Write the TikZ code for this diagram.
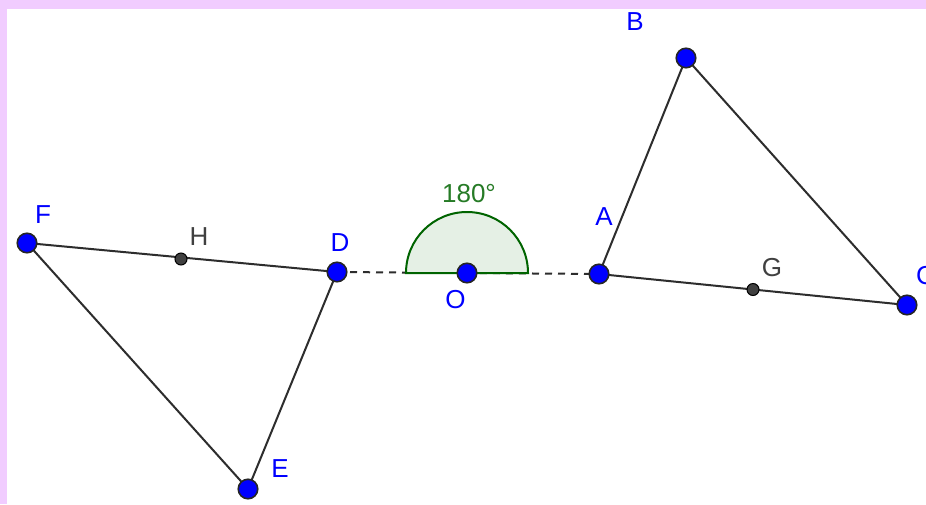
\documentclass[tikz,border=0pt]{standalone}
\usepackage{fontspec}
\setmainfont{Liberation Sans}
\usetikzlibrary{calc}
\definecolor{frame}{RGB}{241,204,255}
\definecolor{ptblue}{RGB}{0,0,255}
\definecolor{anggreen}{RGB}{0,100,0}
\definecolor{angfill}{RGB}{229,240,229}
\definecolor{seg}{RGB}{45,45,45}
\definecolor{lblgray}{RGB}{64,64,64}
\tikzset{
  segline/.style={draw=seg, line width=2pt},
  dashline/.style={draw=seg, line width=2pt, dash pattern=on 7pt off 6pt},
  bigpt/.style={circle, fill=ptblue, draw=black!85, line width=1.6pt, minimum size=19.5pt, inner sep=0pt},
  smallpt/.style={circle, fill=black!75, draw=black, line width=1pt, minimum size=12pt, inner sep=0pt},
  lbl/.style={inner sep=0pt, text=ptblue, font=\fontsize{26}{30}\selectfont},
  glbl/.style={lbl, text=lblgray},
  anglbl/.style={lbl, text=anggreen!85!white}
}
\begin{document}
\begin{tikzpicture}[x=1pt,y=-1pt]
\useasboundingbox (0,0) rectangle (926,504);
\fill[white] (0,0) rectangle (926,504);
\fill[frame] (0,0) rectangle (926,9);
\fill[frame] (0,0) rectangle (7,504);
% points
\coordinate (F) at (27,243);
\coordinate (H) at (181,259);
\coordinate (D) at (337,272);
\coordinate (E) at (248,489);
\coordinate (O) at (467,273);
\coordinate (A) at (599,274);
\coordinate (G) at (753,289.5);
\coordinate (C) at (907,305);
\coordinate (B) at (686,58);
% dashed line through O
\draw[dashline] (D) -- (A);
% angle sector
\filldraw[fill=angfill, draw=anggreen, line width=2pt]
  ($(O)+(61,0)$) arc[start angle=0, end angle=-180, radius=61] -- cycle;
% triangles
\draw[segline] (F) -- (D);
\draw[segline] (D) -- (E);
\draw[segline] (E) -- (F);
\draw[segline] (A) -- (B);
\draw[segline] (B) -- (C);
\draw[segline] (C) -- (A);
% point marks
\node[smallpt] (Hdot) at (H) {};
\node[smallpt] (Gdot) at (G) {};
\node[bigpt] (Fdot) at (F) {};
\node[bigpt] (Ddot) at (D) {};
\node[bigpt] (Edot) at (E) {};
\node[bigpt] (Odot) at (O) {};
\node[bigpt] (Adot) at (A) {};
\node[bigpt] (Bdot) at (B) {};
\node[bigpt] (Cdot) at (C) {};
% labels
\node[lbl] (Flab) at (43,214.5) {F};
\node[glbl] (Hlab) at (199,236.5) {H};
\node[lbl] (Dlab) at (340,242.5) {D};
\node[lbl] (Elab) at (280,469) {E};
\node[lbl] (Olab) at (455.5,300) {O};
\node[lbl] (Alab) at (604,216.5) {A};
\node[lbl] (Blab) at (635,22) {B};
\node[glbl] (Glab) at (772,268) {G};
\node[lbl] (Clab) at (925.5,276) {C};
\node[anglbl] (anglab) at (469,194) {180°};
\end{tikzpicture}
\end{document}
